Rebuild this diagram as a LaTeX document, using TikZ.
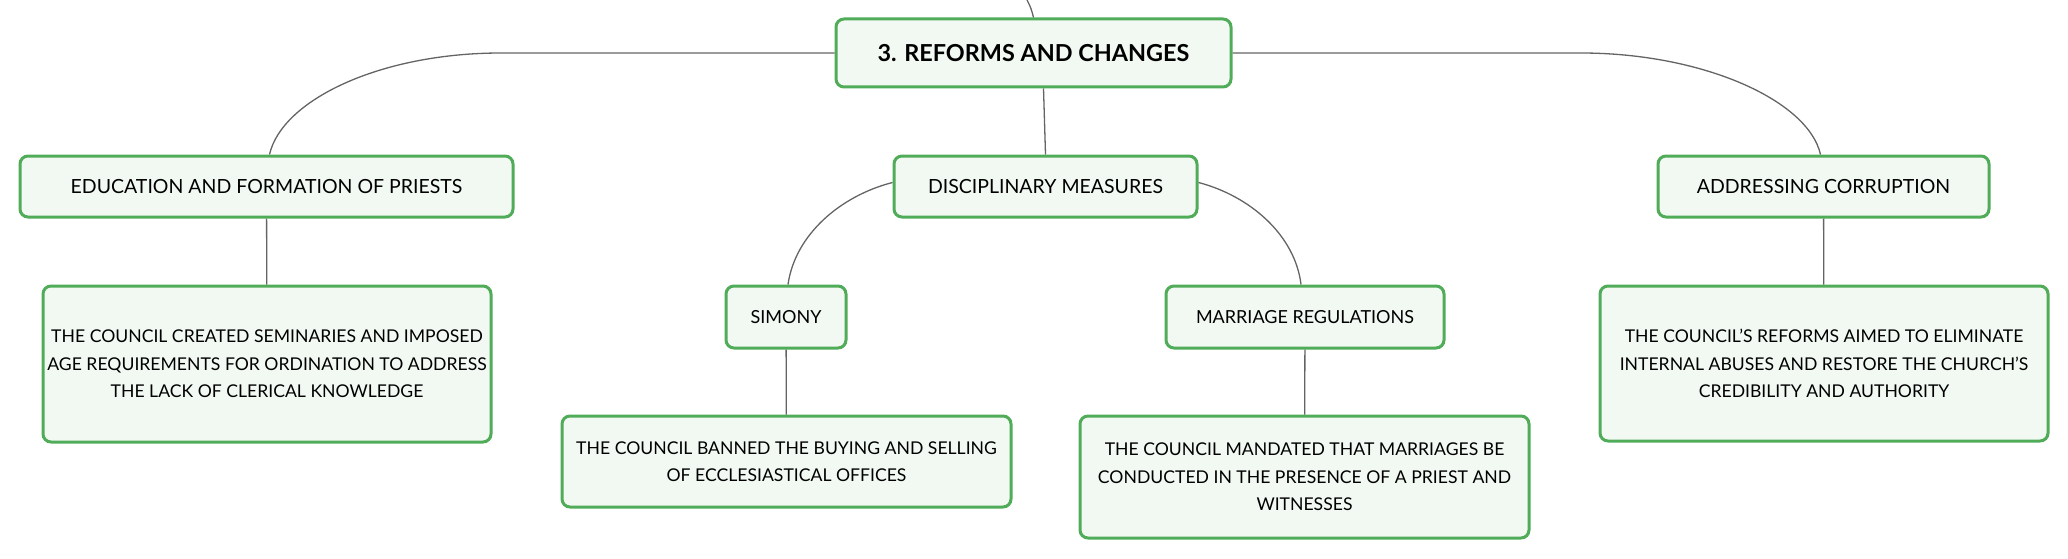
\documentclass[tikz,border=0pt]{standalone}
\usepackage{fontspec}
\setmainfont{Lato}
\begin{document}
\begin{tikzpicture}[x=1pt, y=-1pt,
		box/.style={draw=boxgreen, line width=3pt, fill=boxfill, rounded corners=8pt, align=center, inner sep=0pt, font=\fontsize{19.5}{27}\selectfont},
		desc/.style={box, font=\fontsize{17.6}{27.5}\selectfont},
		link/.style={draw=linegray, line width=1.3pt}]
		\definecolor{boxgreen}{RGB}{80,172,88}
		\definecolor{boxfill}{RGB}{242,249,243}
		\definecolor{linegray}{RGB}{100,100,100}
		\useasboundingbox (0,0) rectangle (2068,559);
		\coordinate (top) at (1027,0);
		\coordinate (L) at (501,53);
		\coordinate (R) at (1581,53);
		\node[box, minimum width=395, minimum height=68, font=\fontsize{23.4}{30}\selectfont\bfseries] (root) at (1033.5,53) {3. REFORMS AND CHANGES};
		\node[box, minimum width=493, minimum height=61] (edu) at (266.5,186.5) {EDUCATION AND FORMATION OF PRIESTS};
		\node[box, minimum width=303, minimum height=61] (disc) at (1045.5,186.5) {DISCIPLINARY MEASURES};
		\node[box, minimum width=331, minimum height=61] (addr) at (1823.5,186.5) {ADDRESSING CORRUPTION};
		\node[desc, minimum width=448, minimum height=156] (edudesc) at (267,364) {THE COUNCIL CREATED SEMINARIES AND IMPOSED\\AGE REQUIREMENTS FOR ORDINATION TO ADDRESS\\THE LACK OF CLERICAL KNOWLEDGE};
		\node[box, minimum width=120, minimum height=62, font=\fontsize{18}{27}\selectfont] (simony) at (786,317) {SIMONY};
		\node[desc, minimum width=449, minimum height=91] (simdesc) at (786.5,461.5) {THE COUNCIL BANNED THE BUYING AND SELLING\\OF ECCLESIASTICAL OFFICES};
		\node[box, minimum width=278, minimum height=62, font=\fontsize{18}{27}\selectfont] (marriage) at (1305,317) {MARRIAGE REGULATIONS};
		\node[desc, minimum width=449, minimum height=122] (mardesc) at (1304.5,477) {THE COUNCIL MANDATED THAT MARRIAGES BE\\CONDUCTED IN THE PRESENCE OF A PRIEST AND\\WITNESSES};
		\node[desc, minimum width=448, minimum height=155] (addrdesc) at (1824,363.5) {THE COUNCIL’S REFORMS AIMED TO ELIMINATE\\INTERNAL ABUSES AND RESTORE THE CHURCH’S\\CREDIBILITY AND AUTHORITY};
		% connectors
		\draw[link] (top) .. controls (1031,8) .. (root.north);
		\draw[link] ([xshift=10]root.south) -- (disc.north);
		\draw[link] (root.west) -- (L) .. controls (380,53) and (282,100) .. ([xshift=3]edu.north);
		\draw[link] (root.east) -- (R) .. controls (1702,53) and (1808,100) .. ([xshift=-3]addr.north);
		\draw[link] ([yshift=4]disc.west) .. controls (840,196) and (795,235) .. ([xshift=2]simony.north);
		\draw[link] ([yshift=4]disc.east) .. controls (1250,196) and (1295,235) .. ([xshift=-4]marriage.north);
		\draw[link] (edu) -- (edudesc);
		\draw[link] (simony) -- (simdesc);
		\draw[link] (marriage) -- (mardesc);
		\draw[link] (addr) -- (addrdesc);
	\end{tikzpicture}
\end{document}
